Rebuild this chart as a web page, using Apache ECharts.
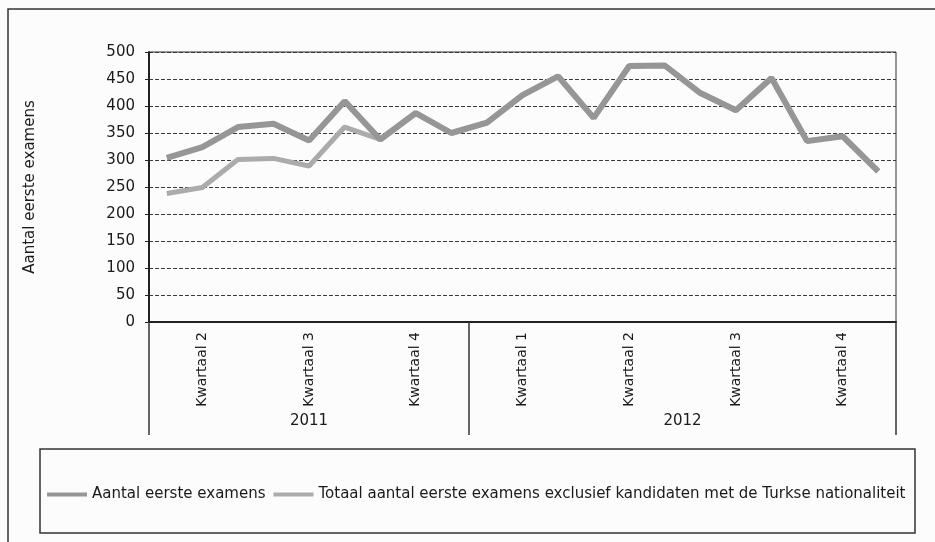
<!DOCTYPE html>
<html>
<head>
<meta charset="utf-8">
<script src="https://cdn.jsdelivr.net/npm/echarts@6/dist/echarts.min.js"></script>
<style>
  html, body { margin: 0; padding: 0; background: #fcfcfc; }
  #main { width: 935px; height: 542px; }
</style>
</head>
<body>
<div id="main"></div>
<script>
// maanden april 2011 t/m december 2012
const months = [
  'apr 2011', 'mei 2011', 'jun 2011', 'jul 2011', 'aug 2011', 'sep 2011',
  'okt 2011', 'nov 2011', 'dec 2011',
  'jan 2012', 'feb 2012', 'mrt 2012', 'apr 2012', 'mei 2012', 'jun 2012',
  'jul 2012', 'aug 2012', 'sep 2012', 'okt 2012', 'nov 2012', 'dec 2012'
];
const quarterLabels = [
  '', 'Kwartaal 2', '', '', 'Kwartaal 3', '', '', 'Kwartaal 4', '',
  '', 'Kwartaal 1', '', '', 'Kwartaal 2', '', '', 'Kwartaal 3', '', '', 'Kwartaal 4', ''
];
const years = ['2011', '2012'];
const monthsPerYear = [9, 12];

const aantal = [304, 324, 361, 367, 336, 409, 338, 387, 350, 369, 420, 455, 378, 474, 475, 424, 392, 452, 335, 344, 279];
const exclTurks = [238, 249, 301, 303, 289, 361, 338, 387, 350, 369, 420, 455, 378, 474, 475, 424, 392, 452, 335, 344, 279];

const yTicks = [0, 50, 100, 150, 200, 250, 300, 350, 400, 450, 500];

// tweede as: halve-maand posities, voor jaartal en scheidingslijnen
let halfSlots = [];
let yearLabelAt = {};
let dividers = [0];
let pos = 0;
years.forEach((y, i) => {
  yearLabelAt[pos + monthsPerYear[i]] = y;
  pos += monthsPerYear[i] * 2;
  dividers.push(pos);
});
for (let k = 0; k <= pos; k++) halfSlots.push(String(k));

const font = 'DejaVu Sans';
const txt = '#1a1a1a';

const chart = echarts.init(document.getElementById('main'));
chart.setOption({
  backgroundColor: '#fcfcfc',
  animation: false,
  grid: {
    left: 149, top: 52, width: 747, height: 270,
    show: true, borderColor: '#333', borderWidth: 1
  },
  legend: {
    left: 42, top: 482,
    itemGap: 8, itemWidth: 40, itemHeight: 4,
    icon: 'rect',
    textStyle: { fontFamily: font, fontSize: 15, color: txt },
    data: ['Aantal eerste examens', 'Totaal aantal eerste examens exclusief kandidaten met de Turkse nationaliteit']
  },
  xAxis: [
    {
      type: 'category',
      data: months,
      boundaryGap: true,
      axisLine: { lineStyle: { color: '#222', width: 2 } },
      axisTick: { alignWithLabel: true, interval: 0, inside: true, length: 3, lineStyle: { color: '#222' } },
      axisLabel: {
        interval: 0, rotate: 90, margin: 10,
        fontFamily: font, fontSize: 14, color: txt,
        formatter: (v, i) => quarterLabels[i]
      }
    },
    {
      type: 'category',
      data: halfSlots,
      boundaryGap: false,
      position: 'bottom',
      axisLine: { show: false },
      axisTick: {
        interval: (i) => dividers.indexOf(i) >= 0,
        length: 113, lineStyle: { color: '#333', width: 1.5 }
      },
      axisLabel: {
        interval: (i) => yearLabelAt[i] !== undefined,
        margin: 92, fontFamily: font, fontSize: 15, color: txt,
        formatter: (v, i) => yearLabelAt[i] || ''
      }
    }
  ],
  yAxis: {
    type: 'value',
    min: yTicks[0], max: yTicks[yTicks.length - 1], interval: 50,
    name: 'Aantal eerste examens',
    nameLocation: 'middle', nameGap: 111,
    nameTextStyle: { fontFamily: font, fontSize: 15, color: txt },
    axisLine: { show: true, lineStyle: { color: '#222', width: 2 } },
    axisTick: { show: true, length: 4, lineStyle: { color: '#222' } },
    axisLabel: { fontFamily: font, fontSize: 15, color: txt, margin: 14 },
    splitLine: { lineStyle: { color: '#3a3a3a', width: 1.2, type: [4, 2] } }
  },
  series: [
    {
      name: 'Totaal aantal eerste examens exclusief kandidaten met de Turkse nationaliteit',
      type: 'line', data: exclTurks, showSymbol: false, z: 2,
      itemStyle: { color: '#ababab' },
      lineStyle: { color: '#ababab', width: 5 }
    },
    {
      name: 'Aantal eerste examens',
      type: 'line', data: aantal, showSymbol: false, z: 3,
      itemStyle: { color: '#969696' },
      lineStyle: { color: '#969696', width: 6 }
    }
  ],
  graphic: [
    { type: 'rect', shape: { x: 8, y: 9, width: 940, height: 545 }, style: { fill: null, stroke: '#333', lineWidth: 1.5 } },
    { type: 'rect', shape: { x: 40, y: 449, width: 875, height: 84 }, style: { fill: null, stroke: '#333', lineWidth: 1.5 } }
  ]
});
</script>
</body>
</html>
